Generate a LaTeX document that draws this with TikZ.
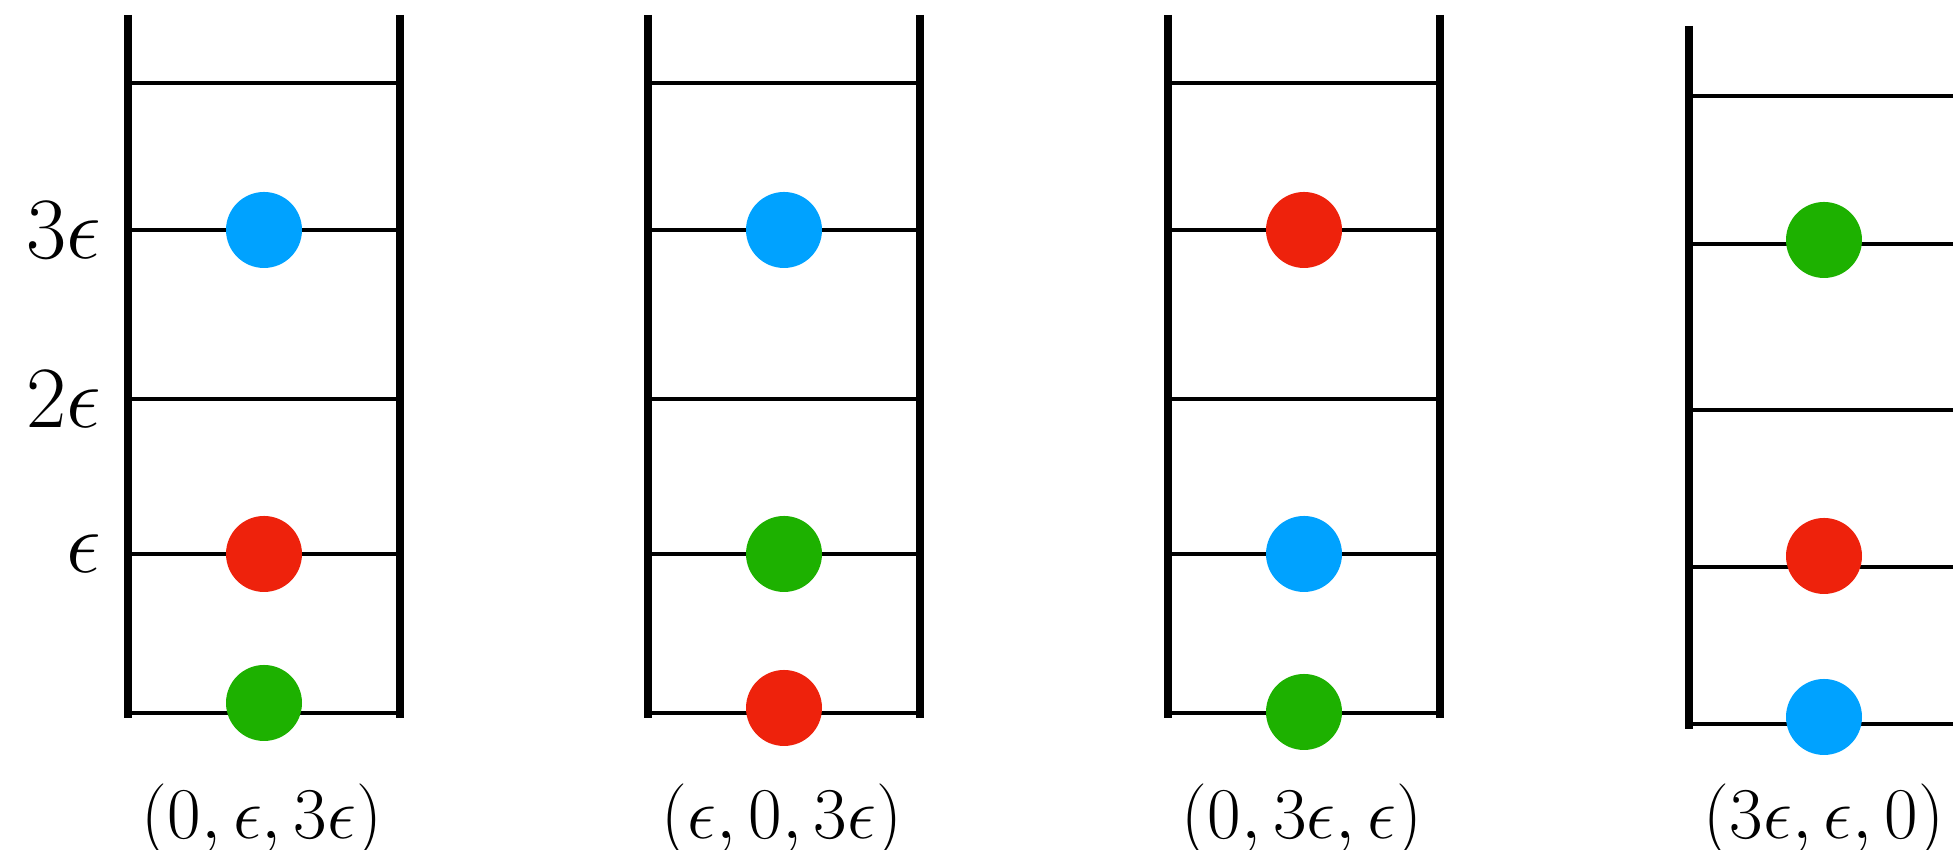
\documentclass[tikz,border=0pt]{standalone}
\usepackage{amsmath,amssymb}
\usepackage{tikz}
\usetikzlibrary{positioning}

\definecolor{kblue}{HTML}{00A2FF}
\definecolor{kred}{HTML}{EE220C}
\definecolor{kgreen}{HTML}{1DB100}

\tikzset{
  rail/.style={line width=2.1pt},
  rung/.style={line width=1.3pt},
  dot/.style={circle, fill=#1, inner sep=0pt, minimum size=0.76cm},
  lvl/.style={anchor=east, inner sep=0pt, font=\fontsize{25}{29}\selectfont},
  cfg/.style={inner sep=0pt, font=\fontsize{20}{24}\selectfont}
}

\begin{document}
\begin{tikzpicture}
\useasboundingbox (0,0) rectangle (19.53,8.5);

% three full ladders
\foreach \x in {1.28,6.48,11.68} {
  \draw[rail] (\x,8.35) -- (\x,1.32);
  \draw[rail] (\x+2.72,8.35) -- (\x+2.72,1.32);
  \foreach \y in {7.67,6.20,4.51,2.96,1.37}
    \draw[rung] (\x,\y) -- (\x+2.72,\y);
}
% last ladder, cut at the edge
\draw[rail] (16.89,8.24) -- (16.89,1.21);
\foreach \y in {7.54,6.06,4.40,2.83,1.26}
  \draw[rung] (16.89,\y) -- (19.53,\y);

% energy levels
\node[lvl] (e3) at (1.02,6.20) {$3\epsilon$};
\node[lvl] (e2) at (1.02,4.51) {$2\epsilon$};
\node[lvl] (e1) at (1.02,2.96) {$\epsilon$};

% particles
\node[dot=kblue] (a3) at (2.64,6.20) {};
\node[dot=kred] (a1) at (2.64,2.96) {};
\node[dot=kgreen] (a0) at (2.64,1.47) {};

\node[dot=kblue] (b3) at (7.84,6.20) {};
\node[dot=kgreen] (b1) at (7.84,2.96) {};
\node[dot=kred] (b0) at (7.84,1.42) {};

\node[dot=kred] (c3) at (13.04,6.20) {};
\node[dot=kblue] (c1) at (13.04,2.96) {};
\node[dot=kgreen] (c0) at (13.04,1.38) {};

\node[dot=kgreen] (d3) at (18.24,6.10) {};
\node[dot=kred] (d1) at (18.24,2.94) {};
\node[dot=kblue] (d0) at (18.24,1.33) {};

% occupations
\node[cfg] (ca) at (2.62,0.30) {$(0,\epsilon,3\epsilon)$};
\node[cfg] (cb) at (7.82,0.30) {$(\epsilon,0,3\epsilon)$};
\node[cfg] (cc) at (13.02,0.30) {$(0,3\epsilon,\epsilon)$};
\node[cfg] (cd) at (18.24,0.30) {$(3\epsilon,\epsilon,0)$};
\end{tikzpicture}
\end{document}
